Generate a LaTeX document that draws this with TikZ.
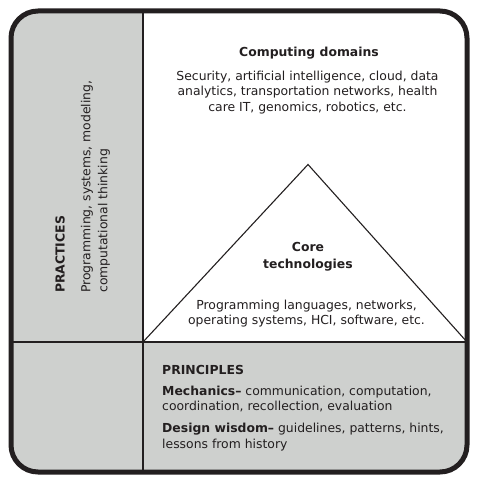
\documentclass[tikz,border=0pt]{standalone}
\usepackage{fontspec}
\setmainfont{DejaVu Sans}
\definecolor{panel}{RGB}{206,208,206}
\definecolor{ink}{RGB}{35,31,32}
\begin{document}
\begin{tikzpicture}[x=1pt,y=-1pt,
  txt/.style={font=\fontsize{12.4}{15.7}\selectfont, inner sep=0pt, text=ink},
  hd/.style={font=\fontsize{12.4}{16.7}\selectfont\bfseries, inner sep=0pt, text=ink},
  rule/.style={draw=ink, line width=1.1pt},
  frame/.style={draw=ink, line width=5pt, rounded corners=27pt}]
\useasboundingbox (0,0) rectangle (483,484);
\begin{scope}
  \clip[rounded corners=27pt] (11,11) rectangle (467,472);
  \fill[panel] (0,0) rectangle (483,484);
  \fill[white] (143,0) rectangle (483,342);
\end{scope}
\coordinate (tl) at (143,342);
\coordinate (apex) at (308,164.5);
\coordinate (tr) at (467,342);
\draw[rule] (143,11) -- (143,472);
\draw[rule] (11,342) -- (467,342);
\draw[rule] (tl) -- (apex) -- (tr);
\draw[frame] (11,11) rectangle (467,472);
% texts
\node[hd] (cd) at (309,53.5) {Computing domains};
\node[txt, align=center] (cdt) at (307.5,92.5) {Security, artificial intelligence, cloud, data\\analytics, transportation networks, health\\care IT, genomics, robotics, etc.};
\node[hd, align=center] (ct) at (308,257) {Core\\technologies};
\node[txt, align=center] (ctt) at (306.5,313.5) {Programming languages, networks,\\operating systems, HCI, software, etc.};
\node[hd, anchor=west] (pr) at (162,369.5) {PRINCIPLES};
\node[txt, align=left, anchor=west] (me) at (162,399) {\textbf{Mechanics–} communication, computation,\\coordination, recollection, evaluation};
\node[txt, align=left, anchor=west] (dw) at (162,437) {\textbf{Design wisdom–} guidelines, patterns, hints,\\lessons from history};
\node[hd, rotate=90, anchor=west] (pa) at (60,293) {PRACTICES};
\node[txt, rotate=90, anchor=west, align=left, font=\fontsize{12.4}{17}\selectfont] (pat) at (95.5,293) {Programming, systems, modeling,\\computational thinking};
\end{tikzpicture}
\end{document}
